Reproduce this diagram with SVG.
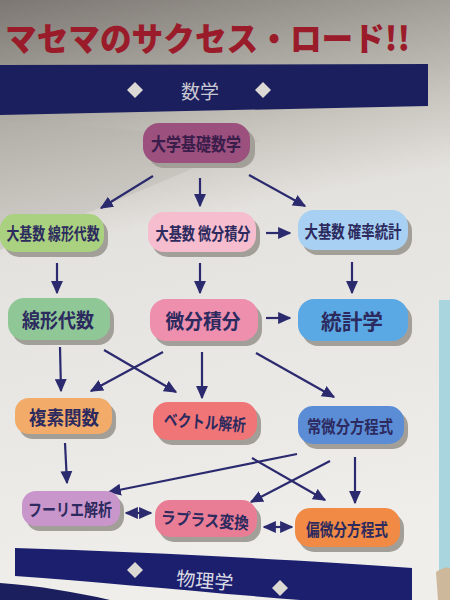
<svg xmlns="http://www.w3.org/2000/svg" width="450" height="600" viewBox="0 0 450 600">
<defs>
<linearGradient id="bg" x1="0" y1="0" x2="0.15" y2="1">
<stop offset="0" stop-color="#7c7772"/>
<stop offset="0.17" stop-color="#a8a49e"/>
<stop offset="0.3" stop-color="#c9c5bf"/>
<stop offset="0.42" stop-color="#e4e2de"/>
<stop offset="1" stop-color="#efeeeb"/>
</linearGradient>
<marker id="ah" viewBox="0 0 10 10" refX="9" refY="5" markerWidth="6" markerHeight="6" orient="auto-start-reverse" markerUnits="strokeWidth">
<path d="M0,0.5 L10,5 L0,9.5 Z" fill="#2b2a6e"/>
</marker>
<style>
.sh{fill:#a29e98;}
.t{font-family:"Noto Sans CJK JP","Noto Sans CJK SC",sans-serif;font-weight:700;fill:#2c2a5e;text-anchor:middle;dominant-baseline:central;}
.c{stroke:#2b2a6e;stroke-width:2.2;fill:none;marker-end:url(#ah);}
.b{marker-start:url(#ah);}
.dm{fill:#dcd8d3;}
</style>
</defs>
<rect x="0" y="0" width="450" height="600" fill="url(#bg)"/>
<path d="M0,120 L260,140 L0,250 Z" fill="#b5b1ab" opacity="0.35"/>
<rect x="439" y="300" width="11" height="300" fill="#a9d6de"/>
<path d="M436,572 Q445,566 450,568 L450,600 L438,600 Z" fill="#cdb89c"/>

<text x="5" y="51" font-family="'Noto Sans CJK JP',sans-serif" font-weight="900" font-size="33" fill="#9a1b2a" textLength="405" lengthAdjust="spacingAndGlyphs">マセマのサクセス・ロード!!</text>

<g id="band-math">
<path d="M0,65 L428,64 L428,106 L0,115 Z" fill="#1b1f5e"/>
<path d="M135,82 L143,90 L135,98 L127,90 Z" class="dm"/>
<path d="M263,82 L271,90 L263,98 L255,90 Z" class="dm"/>
<text x="200" y="90" class="t" style="fill:#c9c8d2;font-weight:400" font-size="19">数学</text>
</g>

<g id="connectors">
<line x1="153" y1="176" x2="101" y2="208" class="c"/>
<line x1="200" y1="178" x2="200" y2="206" class="c"/>
<line x1="249" y1="175" x2="305" y2="206" class="c"/>
<line x1="266" y1="233" x2="290" y2="233" class="c"/>
<line x1="57" y1="263" x2="57" y2="293" class="c"/>
<line x1="200" y1="263" x2="200" y2="293" class="c"/>
<line x1="352" y1="262" x2="352" y2="293" class="c"/>
<line x1="266" y1="318" x2="290" y2="318" class="c"/>
<line x1="60" y1="347" x2="61" y2="391" class="c"/>
<line x1="104" y1="350" x2="176" y2="392" class="c"/>
<line x1="163" y1="352" x2="91" y2="391" class="c"/>
<line x1="202" y1="352" x2="202" y2="398" class="c"/>
<line x1="256" y1="353" x2="334" y2="397" class="c"/>
<line x1="65" y1="443" x2="67" y2="483" class="c"/>
<line x1="297" y1="454" x2="109" y2="492" class="c"/>
<line x1="330" y1="461" x2="251" y2="502" class="c"/>
<line x1="252" y1="458" x2="325" y2="500" class="c"/>
<line x1="355" y1="457" x2="355" y2="503" class="c"/>
<line x1="126" y1="513" x2="151" y2="513" class="c b"/>
<line x1="264" y1="527" x2="292" y2="527" class="c b"/>
</g>

<g id="n-daigaku"><rect x="148" y="128" width="107" height="40" rx="16" class="sh"/><rect x="143" y="123" width="107" height="40" rx="16" fill="#9b507e"/><text x="196" y="143" class="t" font-size="18" style="fill:#3b1d4c" textLength="90" lengthAdjust="spacingAndGlyphs">大学基礎数学</text></g>
<g id="n-kiso-lin"><rect x="4" y="219" width="104" height="38" rx="15" class="sh"/><rect x="0" y="214" width="104" height="38" rx="15" fill="#a9d17f"/><text x="53" y="233" class="t" font-size="16.5" textLength="93" lengthAdjust="spacingAndGlyphs">大基数 線形代数</text></g>
<g id="n-kiso-calc"><rect x="152" y="217" width="108" height="40" rx="16" class="sh"/><rect x="148" y="212" width="108" height="40" rx="16" fill="#f5bdcd"/><text x="203" y="232" class="t" font-size="17" textLength="95" lengthAdjust="spacingAndGlyphs">大基数 微分積分</text></g>
<g id="n-kiso-stat"><rect x="302" y="215" width="110" height="40" rx="16" class="sh"/><rect x="298" y="210" width="110" height="40" rx="16" fill="#a7d0f2"/><text x="353" y="230" class="t" font-size="17" textLength="97" lengthAdjust="spacingAndGlyphs">大基数 確率統計</text></g>
<g id="n-lin"><rect x="12" y="303" width="102" height="42" rx="16" class="sh"/><rect x="8" y="298" width="102" height="42" rx="16" fill="#8fc796"/><text x="58" y="319" class="t" font-size="20" textLength="72" lengthAdjust="spacingAndGlyphs">線形代数</text></g>
<g id="n-calc"><rect x="154" y="304" width="108" height="42" rx="16" class="sh"/><rect x="150" y="299" width="108" height="42" rx="16" fill="#ee8fae"/><text x="203" y="320" class="t" font-size="20" textLength="75" lengthAdjust="spacingAndGlyphs">微分積分</text></g>
<g id="n-stat"><rect x="302" y="304" width="110" height="42" rx="16" class="sh"/><rect x="298" y="299" width="110" height="42" rx="16" fill="#5ba9e4"/><text x="352" y="320" class="t" font-size="21" textLength="62" lengthAdjust="spacingAndGlyphs">統計学</text></g>
<g id="n-complex"><rect x="19" y="403" width="97" height="36" rx="14" class="sh"/><rect x="15" y="398" width="97" height="36" rx="14" fill="#f3ab6a"/><text x="64" y="416" class="t" font-size="19" textLength="70" lengthAdjust="spacingAndGlyphs">複素関数</text></g>
<g id="n-vector"><rect x="157" y="407" width="104" height="38" rx="15" class="sh"/><rect x="153" y="402" width="104" height="38" rx="15" fill="#f07577"/><text x="205" y="421" class="t" font-size="17" transform="rotate(4 205 421)" textLength="82" lengthAdjust="spacingAndGlyphs">ベクトル解析</text></g>
<g id="n-ode"><rect x="302" y="411" width="106" height="38" rx="15" class="sh"/><rect x="298" y="406" width="106" height="38" rx="15" fill="#5b8dd6"/><text x="350" y="425" class="t" font-size="17" textLength="86" lengthAdjust="spacingAndGlyphs">常微分方程式</text></g>
<g id="n-fourier"><rect x="26" y="496" width="98" height="35" rx="14" class="sh"/><rect x="22" y="491" width="98" height="35" rx="14" fill="#c996cc"/><text x="70" y="508" class="t" font-size="17" textLength="84" lengthAdjust="spacingAndGlyphs">フーリエ解析</text></g>
<g id="n-laplace"><rect x="159" y="505" width="102" height="37" rx="15" class="sh"/><rect x="155" y="500" width="102" height="37" rx="15" fill="#ea7d96"/><text x="205" y="519" class="t" font-size="17" transform="rotate(4 205 519)" textLength="88" lengthAdjust="spacingAndGlyphs">ラプラス変換</text></g>
<g id="n-pde"><rect x="299" y="513" width="105" height="39" rx="15" class="sh"/><rect x="295" y="508" width="105" height="39" rx="15" fill="#f08a45"/><text x="347" y="528" class="t" font-size="17" textLength="82" lengthAdjust="spacingAndGlyphs">偏微分方程式</text></g>

<g id="band-physics">
<path d="M15,548 C150,552 300,560 412,568 L412,600 L300,600 C200,592 100,582 15,576 Z" fill="#1b1f6e"/>
<path d="M135,562 L143,570 L135,578 L127,570 Z" class="dm"/>
<path d="M280,580 L288,588 L280,596 L272,588 Z" class="dm"/>
<text x="205" y="579" class="t" style="fill:#dcdbe4;font-weight:400" font-size="19" transform="rotate(5 205 579)">物理学</text>
</g>
<path d="M0,583 C40,586 75,592 110,600 L0,600 Z" fill="#1b1f5e"/>
</svg>
